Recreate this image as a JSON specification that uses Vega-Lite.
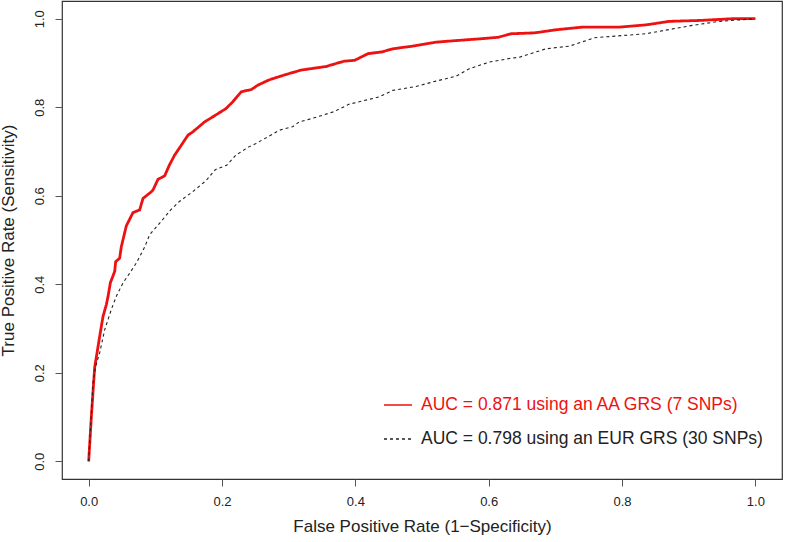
{
  "$schema": "https://vega.github.io/schema/vega-lite/v6.json",
  "width": 720,
  "height": 478,
  "autosize": {"type": "none"},
  "padding": {"left": 62, "top": 1, "right": 3, "bottom": 63},
  "background": "white",
  "config": {
    "font": "Liberation Sans",
    "view": {"stroke": "#333333", "strokeWidth": 1.2}
  },
  "datasets": {
    "roc": [
      {"model": "AA", "fpr": 0, "tpr": 0},
      {"model": "AA", "fpr": 0.004, "tpr": 0.10},
      {"model": "AA", "fpr": 0.009, "tpr": 0.212},
      {"model": "AA", "fpr": 0.0165, "tpr": 0.282},
      {"model": "AA", "fpr": 0.0215, "tpr": 0.327},
      {"model": "AA", "fpr": 0.0265, "tpr": 0.354},
      {"model": "AA", "fpr": 0.029, "tpr": 0.372},
      {"model": "AA", "fpr": 0.0325, "tpr": 0.403},
      {"model": "AA", "fpr": 0.039, "tpr": 0.429},
      {"model": "AA", "fpr": 0.0405, "tpr": 0.451},
      {"model": "AA", "fpr": 0.0465, "tpr": 0.459},
      {"model": "AA", "fpr": 0.049, "tpr": 0.485},
      {"model": "AA", "fpr": 0.0565, "tpr": 0.532},
      {"model": "AA", "fpr": 0.0665, "tpr": 0.562},
      {"model": "AA", "fpr": 0.0765, "tpr": 0.568},
      {"model": "AA", "fpr": 0.0815, "tpr": 0.594},
      {"model": "AA", "fpr": 0.094, "tpr": 0.609},
      {"model": "AA", "fpr": 0.0965, "tpr": 0.613},
      {"model": "AA", "fpr": 0.104, "tpr": 0.637},
      {"model": "AA", "fpr": 0.114, "tpr": 0.645},
      {"model": "AA", "fpr": 0.121, "tpr": 0.669},
      {"model": "AA", "fpr": 0.129, "tpr": 0.692},
      {"model": "AA", "fpr": 0.134, "tpr": 0.703},
      {"model": "AA", "fpr": 0.149, "tpr": 0.737},
      {"model": "AA", "fpr": 0.156, "tpr": 0.744},
      {"model": "AA", "fpr": 0.174, "tpr": 0.767},
      {"model": "AA", "fpr": 0.186, "tpr": 0.778},
      {"model": "AA", "fpr": 0.206, "tpr": 0.797},
      {"model": "AA", "fpr": 0.216, "tpr": 0.812},
      {"model": "AA", "fpr": 0.229, "tpr": 0.835},
      {"model": "AA", "fpr": 0.244, "tpr": 0.840},
      {"model": "AA", "fpr": 0.254, "tpr": 0.850},
      {"model": "AA", "fpr": 0.271, "tpr": 0.862},
      {"model": "AA", "fpr": 0.296, "tpr": 0.874},
      {"model": "AA", "fpr": 0.319, "tpr": 0.884},
      {"model": "AA", "fpr": 0.356, "tpr": 0.892},
      {"model": "AA", "fpr": 0.383, "tpr": 0.904},
      {"model": "AA", "fpr": 0.399, "tpr": 0.906},
      {"model": "AA", "fpr": 0.419, "tpr": 0.921},
      {"model": "AA", "fpr": 0.440, "tpr": 0.925},
      {"model": "AA", "fpr": 0.456, "tpr": 0.932},
      {"model": "AA", "fpr": 0.486, "tpr": 0.938},
      {"model": "AA", "fpr": 0.521, "tpr": 0.947},
      {"model": "AA", "fpr": 0.546, "tpr": 0.950},
      {"model": "AA", "fpr": 0.591, "tpr": 0.955},
      {"model": "AA", "fpr": 0.614, "tpr": 0.958},
      {"model": "AA", "fpr": 0.634, "tpr": 0.966},
      {"model": "AA", "fpr": 0.669, "tpr": 0.968},
      {"model": "AA", "fpr": 0.701, "tpr": 0.975},
      {"model": "AA", "fpr": 0.741, "tpr": 0.981},
      {"model": "AA", "fpr": 0.796, "tpr": 0.981},
      {"model": "AA", "fpr": 0.836, "tpr": 0.986},
      {"model": "AA", "fpr": 0.871, "tpr": 0.994},
      {"model": "AA", "fpr": 0.916, "tpr": 0.996},
      {"model": "AA", "fpr": 0.966, "tpr": 1.0},
      {"model": "AA", "fpr": 1.0, "tpr": 1.0},
      {"model": "EUR", "fpr": 0, "tpr": 0},
      {"model": "EUR", "fpr": 0.0065, "tpr": 0.177},
      {"model": "EUR", "fpr": 0.0105, "tpr": 0.215},
      {"model": "EUR", "fpr": 0.0165, "tpr": 0.245},
      {"model": "EUR", "fpr": 0.024, "tpr": 0.297},
      {"model": "EUR", "fpr": 0.034, "tpr": 0.343},
      {"model": "EUR", "fpr": 0.0415, "tpr": 0.373},
      {"model": "EUR", "fpr": 0.0515, "tpr": 0.403},
      {"model": "EUR", "fpr": 0.0615, "tpr": 0.425},
      {"model": "EUR", "fpr": 0.0715, "tpr": 0.448},
      {"model": "EUR", "fpr": 0.084, "tpr": 0.484},
      {"model": "EUR", "fpr": 0.0915, "tpr": 0.512},
      {"model": "EUR", "fpr": 0.1065, "tpr": 0.538},
      {"model": "EUR", "fpr": 0.123, "tpr": 0.568},
      {"model": "EUR", "fpr": 0.136, "tpr": 0.587},
      {"model": "EUR", "fpr": 0.156, "tpr": 0.609},
      {"model": "EUR", "fpr": 0.176, "tpr": 0.634},
      {"model": "EUR", "fpr": 0.19, "tpr": 0.659},
      {"model": "EUR", "fpr": 0.207, "tpr": 0.669},
      {"model": "EUR", "fpr": 0.221, "tpr": 0.692},
      {"model": "EUR", "fpr": 0.241, "tpr": 0.711},
      {"model": "EUR", "fpr": 0.251, "tpr": 0.718},
      {"model": "EUR", "fpr": 0.286, "tpr": 0.748},
      {"model": "EUR", "fpr": 0.306, "tpr": 0.756},
      {"model": "EUR", "fpr": 0.316, "tpr": 0.767},
      {"model": "EUR", "fpr": 0.336, "tpr": 0.775},
      {"model": "EUR", "fpr": 0.368, "tpr": 0.790},
      {"model": "EUR", "fpr": 0.391, "tpr": 0.807},
      {"model": "EUR", "fpr": 0.435, "tpr": 0.823},
      {"model": "EUR", "fpr": 0.456, "tpr": 0.838},
      {"model": "EUR", "fpr": 0.491, "tpr": 0.847},
      {"model": "EUR", "fpr": 0.521, "tpr": 0.859},
      {"model": "EUR", "fpr": 0.551, "tpr": 0.870},
      {"model": "EUR", "fpr": 0.571, "tpr": 0.887},
      {"model": "EUR", "fpr": 0.601, "tpr": 0.902},
      {"model": "EUR", "fpr": 0.631, "tpr": 0.910},
      {"model": "EUR", "fpr": 0.646, "tpr": 0.913},
      {"model": "EUR", "fpr": 0.686, "tpr": 0.932},
      {"model": "EUR", "fpr": 0.721, "tpr": 0.938},
      {"model": "EUR", "fpr": 0.759, "tpr": 0.957},
      {"model": "EUR", "fpr": 0.801, "tpr": 0.962},
      {"model": "EUR", "fpr": 0.836, "tpr": 0.966},
      {"model": "EUR", "fpr": 0.876, "tpr": 0.977},
      {"model": "EUR", "fpr": 0.906, "tpr": 0.985},
      {"model": "EUR", "fpr": 0.946, "tpr": 0.994},
      {"model": "EUR", "fpr": 1.0, "tpr": 1.0}
    ]
  },
  "data": {"name": "roc"},
  "encoding": {
    "x": {
      "field": "fpr", "type": "quantitative",
      "scale": {"domain": [-0.04, 1.04], "nice": false, "zero": false},
      "axis": {
        "title": "False Positive Rate (1\u2212Specificity)",
        "values": [0, 0.2, 0.4, 0.6, 0.8, 1.0], "format": ".1f",
        "domain": false, "grid": false,
        "tickSize": 7, "tickColor": "#555555", "tickWidth": 1,
        "labelFontSize": 13, "labelColor": "#222222", "labelPadding": 9,
        "titleFontSize": 17, "titleFontWeight": "normal", "titleColor": "#222222", "titlePadding": 10
      }
    },
    "y": {
      "field": "tpr", "type": "quantitative",
      "scale": {"domain": [-0.04, 1.04], "nice": false, "zero": false},
      "axis": {
        "title": "True Positive Rate (Sensitivity)",
        "values": [0, 0.2, 0.4, 0.6, 0.8, 1.0], "format": ".1f",
        "domain": false, "grid": false,
        "tickSize": 7, "tickColor": "#555555", "tickWidth": 1,
        "labelAngle": -90, "labelAlign": "center", "labelBaseline": "bottom",
        "labelFontSize": 13, "labelColor": "#222222", "labelPadding": 9,
        "titleFontSize": 17, "titleFontWeight": "normal", "titleColor": "#222222", "titlePadding": 16
      }
    },
    "color": {
      "field": "model", "type": "nominal",
      "scale": {"domain": ["AA", "EUR"], "range": ["#ee1111", "#222222"]},
      "legend": {
        "orient": "none", "legendX": 321, "legendY": 389,
        "title": null,
        "symbolType": "stroke", "symbolSize": 784, "symbolStrokeWidth": 1.3,
        "labelFontSize": 17.5, "labelLimit": 0, "rowPadding": 10, "labelOffset": 8,
        "labelExpr": "datum.value == 'AA' ? 'AUC = 0.871 using an AA GRS (7 SNPs)' : 'AUC = 0.798 using an EUR GRS (30 SNPs)'",
        "encode": {"labels": {"update": {"fill": {"signal": "datum.value == 'AA' ? '#ee1111' : '#222222'"}}}}
      }
    },
    "strokeDash": {
      "field": "model", "type": "nominal",
      "scale": {"domain": ["AA", "EUR"], "range": [[1, 0], [3, 3]]},
      "legend": null
    }
  },
  "layer": [
    {
      "transform": [{"filter": "datum.model == 'AA'"}],
      "mark": {"type": "line", "strokeWidth": 2.8, "interpolate": "linear"}
    },
    {
      "transform": [{"filter": "datum.model == 'EUR'"}],
      "mark": {"type": "line", "strokeWidth": 1.1, "interpolate": "linear"}
    }
  ]
}
